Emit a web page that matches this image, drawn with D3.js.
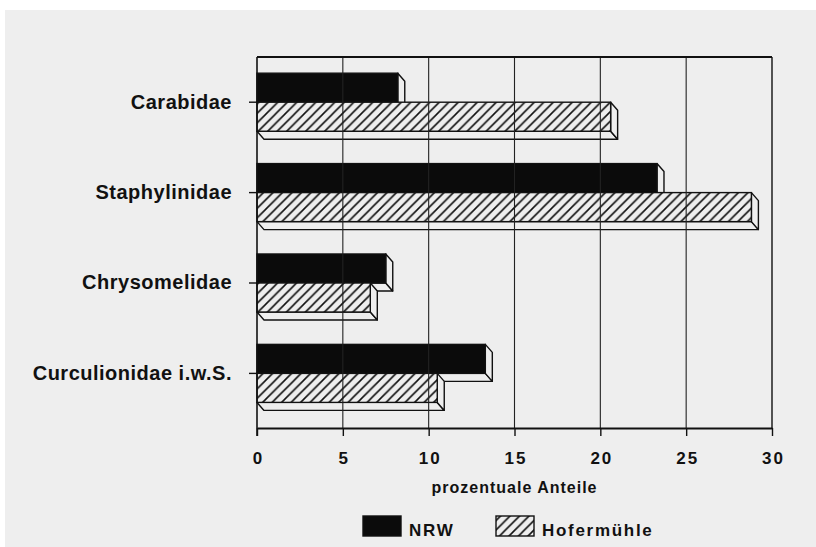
<!DOCTYPE html>
<html>
<head>
<meta charset="utf-8">
<script src="https://cdn.jsdelivr.net/npm/d3@7"></script>
<style>
  html, body { margin: 0; padding: 0; background: #ffffff; }
  svg { display: block; }
  text { font-family: "Liberation Sans", Arial, Helvetica, sans-serif; font-weight: bold; fill: #111; }
</style>
</head>
<body>
<script>
// ---- data ----
const categories = ["Carabidae", "Staphylinidae", "Chrysomelidae", "Curculionidae i.w.S."];
const seriesNames = ["NRW", "Hofermühle"];
const nrwValues = [8.2, 23.3, 7.5, 13.3];
const hofermuehleValues = [20.6, 28.8, 6.6, 10.5];
const xTickValues = [0, 5, 10, 15, 20, 25, 30];
const xAxisTitle = "prozentuale Anteile";

// ---- layout ----
const W = 816, H = 547;
const plotTop = 57, plotBottom = 428, plotLeft = 257, plotRight = 772;
const depthX = 7, depthY = 8;
const bg = "#eeeeee";

const svg = d3.select("body").append("svg").attr("width", W).attr("height", H);

// paper
svg.append("rect").attr("x", 0).attr("y", 0).attr("width", W).attr("height", H).attr("fill", "#ffffff");
svg.append("rect").attr("x", 5).attr("y", 10).attr("width", W - 5).attr("height", H - 10).attr("fill", bg);

// hatch pattern
const defs = svg.append("defs");
const hw = 9.5;
const pat = defs.append("pattern").attr("id", "hatch").attr("patternUnits", "userSpaceOnUse")
  .attr("width", hw).attr("height", hw);
pat.append("rect").attr("width", hw).attr("height", hw).attr("fill", bg);
pat.append("path")
  .attr("d", `M0,${hw} L${hw},0 M${-hw/2},${hw/2} L${hw/2},${-hw/2} M${hw/2},${hw*1.5} L${hw*1.5},${hw/2}`)
  .attr("stroke", "#111").attr("stroke-width", 1.6);

// scales
const x = d3.scaleLinear().domain([0, 30]).range([plotLeft, plotRight]);
const y = d3.scaleBand().domain(categories).range([plotTop, 418.6]).paddingInner(0.358).paddingOuter(0.179);
const ySub = d3.scaleBand().domain(seriesNames).range([0, y.bandwidth()]);

const rows = categories.map((c, i) => ({ cat: c, vals: [
  { s: "NRW", v: nrwValues[i] },
  { s: "Hofermühle", v: hofermuehleValues[i] }
]}));

// bars (3D)
const barG = svg.append("g");
rows.forEach(r => {
  r.vals.forEach(d => {
    const y0 = y(r.cat) + ySub(d.s);
    const h = ySub.bandwidth();
    const x0 = x(0), x1 = x(d.v);
    const g = barG.append("g");
    // bottom face
    g.append("path")
      .attr("d", `M${x0},${y0 + h} L${x0 + depthX},${y0 + h + depthY} L${x1 + depthX},${y0 + h + depthY} L${x1},${y0 + h} Z`)
      .attr("fill", bg).attr("stroke", "#111").attr("stroke-width", 1.4).attr("stroke-linejoin", "round");
    // right face
    g.append("path")
      .attr("d", `M${x1},${y0} L${x1 + depthX},${y0 + depthY} L${x1 + depthX},${y0 + h + depthY} L${x1},${y0 + h} Z`)
      .attr("fill", bg).attr("stroke", "#111").attr("stroke-width", 1.4).attr("stroke-linejoin", "round");
    // front face
    g.append("rect")
      .attr("x", x0).attr("y", y0).attr("width", x1 - x0).attr("height", h)
      .attr("fill", d.s === "NRW" ? "#0b0b0b" : "url(#hatch)")
      .attr("stroke", "#111").attr("stroke-width", 1.4);
  });
});

// gridlines (on top, visible through hatched bars)
svg.append("g").selectAll("line").data(xTickValues.filter(v => v > 0 && v < 30)).join("line")
  .attr("x1", d => x(d)).attr("x2", d => x(d))
  .attr("y1", plotTop).attr("y2", plotBottom)
  .attr("stroke", "#222").attr("stroke-width", 1.1);

// frame: top & right
svg.append("line").attr("x1", plotLeft).attr("x2", plotRight).attr("y1", plotTop).attr("y2", plotTop)
  .attr("stroke", "#111").attr("stroke-width", 1.8);
svg.append("line").attr("x1", plotRight).attr("x2", plotRight).attr("y1", plotTop).attr("y2", plotBottom)
  .attr("stroke", "#111").attr("stroke-width", 1.4);
// left axis line
svg.append("line").attr("x1", plotLeft).attr("x2", plotLeft).attr("y1", plotTop).attr("y2", plotBottom + 8)
  .attr("stroke", "#111").attr("stroke-width", 1.6);

// bottom axis
const xAxis = svg.append("g").attr("transform", `translate(0,${plotBottom})`)
  .call(d3.axisBottom(x).tickValues(xTickValues).tickSizeInner(8).tickSizeOuter(0).tickPadding(16));
xAxis.select(".domain").attr("stroke", "#111").attr("stroke-width", 2);
xAxis.selectAll(".tick line").attr("stroke", "#111").attr("stroke-width", 1.4);
xAxis.selectAll(".tick text")
  .attr("font-family", "'Liberation Sans', Arial, sans-serif").attr("font-weight", "bold")
  .attr("font-size", 17).attr("letter-spacing", 2).attr("fill", "#111")
  .attr("dx", 1);

// left axis (category labels)
const yAxis = svg.append("g").attr("transform", `translate(${plotLeft},0)`)
  .call(d3.axisLeft(y).tickSizeInner(8).tickSizeOuter(0).tickPadding(17));
yAxis.select(".domain").remove();
yAxis.selectAll(".tick line").attr("stroke", "#111").attr("stroke-width", 1.4);
yAxis.selectAll(".tick text")
  .attr("font-family", "'Liberation Sans', Arial, sans-serif").attr("font-weight", "bold")
  .attr("font-size", 20).attr("letter-spacing", 0.5).attr("fill", "#111");

// axis title
svg.append("text").attr("x", (plotLeft + plotRight) / 2).attr("y", 493)
  .attr("text-anchor", "middle").attr("font-size", 16).attr("letter-spacing", 1)
  .text(xAxisTitle);

// legend
const legend = svg.append("g");
const legendItems = [
  { s: "NRW", x: 363, fill: "#0b0b0b" },
  { s: "Hofermühle", x: 496, fill: "url(#hatch)" }
];
legendItems.forEach(it => {
  legend.append("rect").attr("x", it.x).attr("y", 516).attr("width", 38).attr("height", 20)
    .attr("fill", it.fill).attr("stroke", "#111").attr("stroke-width", 1.4);
  legend.append("text").attr("x", it.x + 46).attr("y", 536)
    .attr("font-size", 17).attr("letter-spacing", 1.7).text(it.s);
});
</script>
</body>
</html>
